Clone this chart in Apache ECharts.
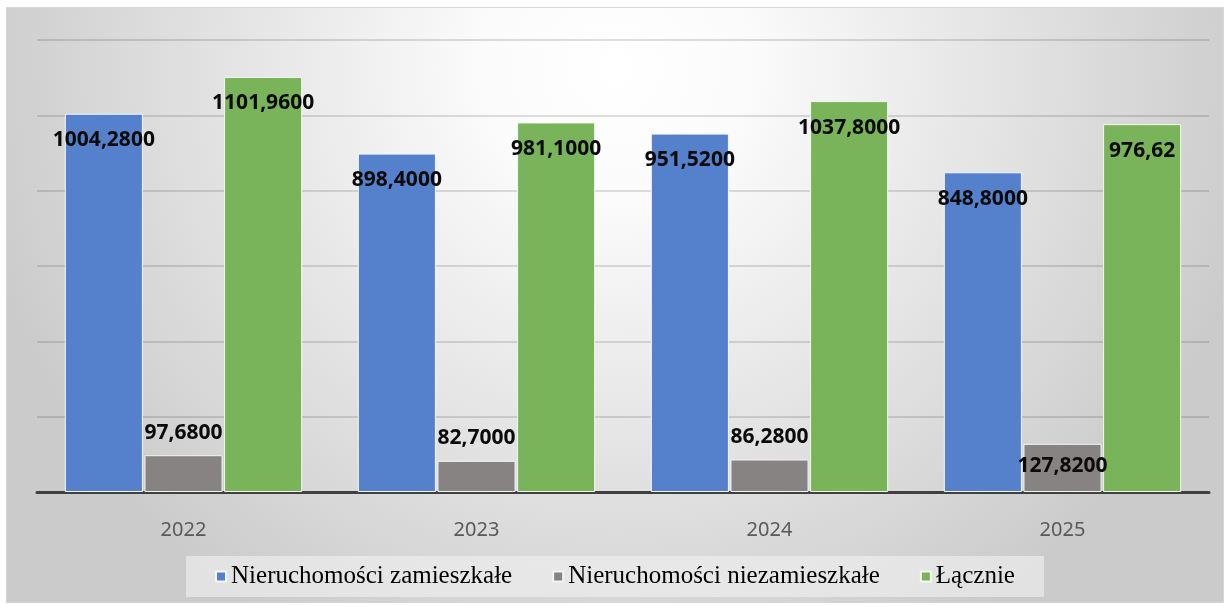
<!DOCTYPE html>
<html><head><meta charset="utf-8">
<script src="https://cdn.jsdelivr.net/npm/echarts@6/dist/echarts.min.js"></script>
<style>
html,body{margin:0;padding:0;background:#fff;width:1229px;height:607px;overflow:hidden}
#c{position:absolute;left:7px;top:8px;width:1216px;height:594px;box-shadow:0 0 0 1px #d6d6d6}
</style></head><body><div id="c"></div>
<script>
const categories = ['2022', '2023', '2024', '2025'];
const seriesNames = ['Nieruchomości zamieszkałe', 'Nieruchomości niezamieszkałe', 'Łącznie'];
const occupied = [1004.28, 898.40, 951.52, 848.80];
const unoccupied = [97.68, 82.70, 86.28, 127.82];
const total = [1101.96, 981.10, 1037.80, 976.62];
const totalDecimals = [4, 4, 4, 2];
const yTicks = [0, 200, 400, 600, 800, 1000, 1200];

const fmt = (v, d) => v.toFixed(d).replace('.', ',');
const labelBase = {show: true, color: '#0a0a0a', fontFamily: 'Noto Sans', fontWeight: 'bold', fontSize: 21};

const chart = echarts.init(document.getElementById('c'));
chart.setOption({
  backgroundColor: {type: 'radial', x: 0.5, y: 0.1, r: 1.1,
    colorStops: [{offset: 0, color: '#ffffff'}, {offset: 0.2, color: '#fbfbfb'}, {offset: 1, color: '#cbcbcb'}]},
  animation: false,
  grid: {left: 30, right: 14, top: 32, bottom: 110},
  legend: {
    bottom: 5, left: 'center', icon: 'rect', itemWidth: 10, itemHeight: 10, itemGap: 40,
    backgroundColor: 'rgba(242,242,242,0.6)', padding: [8, 29],
    textStyle: {fontFamily: 'Liberation Serif', fontSize: 25, color: '#000'},
    data: seriesNames
  },
  xAxis: {
    type: 'category', data: categories,
    axisLine: {lineStyle: {color: '#404040', width: 3}},
    axisTick: {show: false},
    axisLabel: {color: '#595959', fontFamily: 'Noto Sans', fontSize: 20, margin: 28}
  },
  yAxis: {
    type: 'value', min: yTicks[0], max: yTicks[yTicks.length - 1], interval: 200,
    axisLabel: {show: false}, axisLine: {show: false}, axisTick: {show: false},
    splitLine: {lineStyle: {color: 'rgba(0,0,0,0.17)', width: 1.5}}
  },
  series: [
    {name: seriesNames[0], type: 'bar', data: occupied, barCategoryGap: '19%', barGap: '2%',
      itemStyle: {color: '#5580cb', borderColor: '#f4f6fb', borderWidth: 1},
      label: Object.assign({}, labelBase, {position: 'insideTop', distance: 16, formatter: p => fmt(p.value, 4)})},
    {name: seriesNames[1], type: 'bar',
      data: unoccupied.map((v, i) => v > 120 ? {value: v, label: {position: 'insideTop', distance: 12}} : v),
      itemStyle: {color: '#878382', borderColor: '#f4f4f4', borderWidth: 1},
      label: Object.assign({}, labelBase, {position: 'top', distance: 12, formatter: p => fmt(p.value, 4)})},
    {name: seriesNames[2], type: 'bar', data: total,
      itemStyle: {color: '#7ab45a', borderColor: '#f4f8f0', borderWidth: 1},
      label: Object.assign({}, labelBase, {position: 'insideTop', distance: 16, formatter: p => fmt(p.value, totalDecimals[p.dataIndex])})}
  ]
});
</script></body></html>
